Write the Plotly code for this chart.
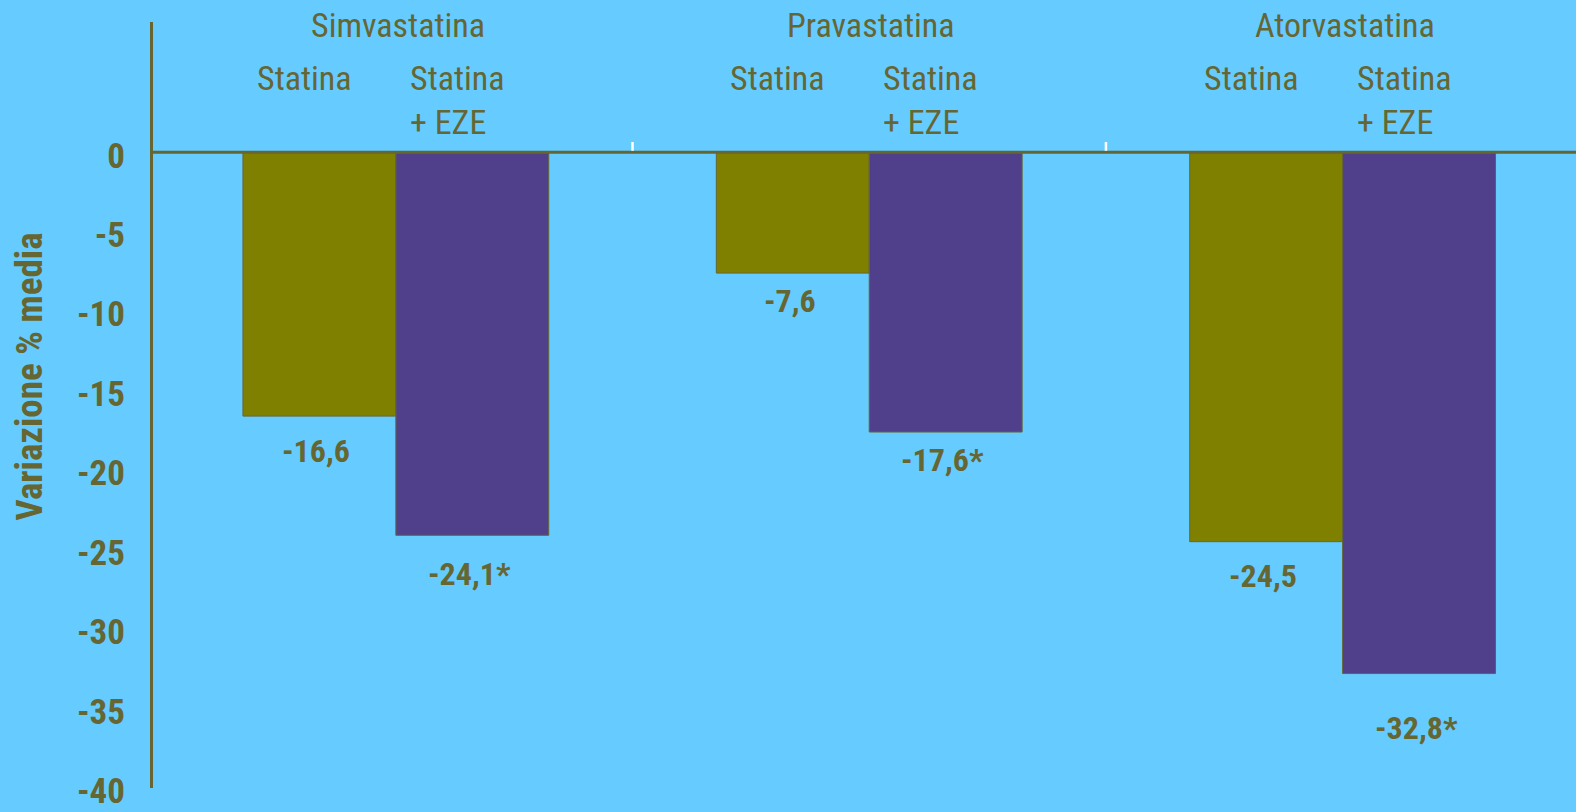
import plotly.graph_objects as go

# ---- data ----
groups = ["Simvastatina", "Pravastatina", "Atorvastatina"]
series_names = ["Statina", "Statina<br>+ EZE"]
statina_vals = [-16.6, -7.6, -24.5]
eze_vals = [-24.1, -17.6, -32.8]
statina_labels = ["-16,6", "-7,6", "-24,5"]
eze_labels = ["-24,1*", "-17,6*", "-32,8*"]
y_ticks = [0, -5, -10, -15, -20, -25, -30, -35, -40]
y_title = "Variazione % media"

# ---- style ----
BG = "#66CCFF"
TXT = "#666633"
OLIVE = "#808000"
PURPLE = "#50408C"
NARROW = "Liberation Sans Narrow, Arial Narrow, Roboto Condensed, Roboto, sans-serif"
BARGAP = 0.354
half = (1 - BARGAP) / 4  # center offset of each bar from category center

x_idx = list(range(len(groups)))

fig = go.Figure()
fig.add_trace(go.Bar(x=x_idx, y=statina_vals, name="Statina",
                     marker=dict(color=OLIVE, line=dict(color=TXT, width=1))))
fig.add_trace(go.Bar(x=x_idx, y=eze_vals, name="Statina + EZE",
                     marker=dict(color=PURPLE, line=dict(color=TXT, width=1))))

ann = []
# group headers
for i, g in enumerate(groups):
    ann.append(dict(x=i, y=1, xref="x", yref="paper", text=g, showarrow=False,
                    yanchor="middle", yshift=-3, xshift=2,
                    font=dict(family=NARROW, size=34, color=TXT)))
    for s, sgn in enumerate([-1, 1]):
        ann.append(dict(x=i + sgn * half, y=1, xref="x", yref="paper",
                        text=series_names[s], showarrow=False, align="left",
                        yanchor="top", xanchor="center", yshift=-34, xshift=-15,
                        font=dict(family=NARROW, size=34, color=TXT)))

# value labels
gap_px = [[35, 28, 34], [39, 28, 54]]
for s, (vals, labs, sgn) in enumerate([(statina_vals, statina_labels, -1),
                                       (eze_vals, eze_labels, 1)]):
    for i, (v, l) in enumerate(zip(vals, labs)):
        ann.append(dict(x=i + sgn * half, y=v, xref="x", yref="y", text="<b>%s</b>" % l,
                        showarrow=False, yanchor="middle", yshift=-gap_px[s][i], xshift=-3,
                        font=dict(family=NARROW, size=32, color=TXT)))

# y axis title
ann.append(dict(x=0, y=0.537, xref="paper", yref="paper", text="<b>%s</b>" % y_title,
                showarrow=False, textangle=-90, xanchor="center", yanchor="middle",
                xshift=-123, font=dict(family=NARROW, size=37, color=TXT)))

shapes = [dict(type="line", xref="paper", yref="y", x0=0, x1=1.01, y0=0, y1=0,
               line=dict(color=TXT, width=3), layer="above")]
for b in [0.5, 1.5]:
    shapes.append(dict(type="line", xref="x", yref="y", x0=b, x1=b, y0=0.1, y1=0.65,
                       line=dict(color="white", width=2.5), layer="above"))

fig.update_layout(
    width=1576, height=812,
    margin=dict(l=153, r=0, t=22, b=19),
    paper_bgcolor=BG, plot_bgcolor=BG,
    barmode="group", bargap=BARGAP, bargroupgap=0,
    showlegend=False,
    annotations=ann, shapes=shapes,
    xaxis=dict(range=[-0.513, 2.493], showticklabels=False, showgrid=False,
               zeroline=False, showline=False, ticks=""),
    yaxis=dict(range=[-40, 8.2], tickvals=y_ticks, ticktext=[str(t) for t in y_ticks],
               showgrid=False, zeroline=False, showline=True, linecolor=TXT, linewidth=3,
               ticks="", ticklabelstandoff=18, ticklabelshift=3,
               ticklabeloverflow="allow",
               tickfont=dict(family=NARROW, size=35, color=TXT, weight="bold")),
)

fig.write_html("out.html")
